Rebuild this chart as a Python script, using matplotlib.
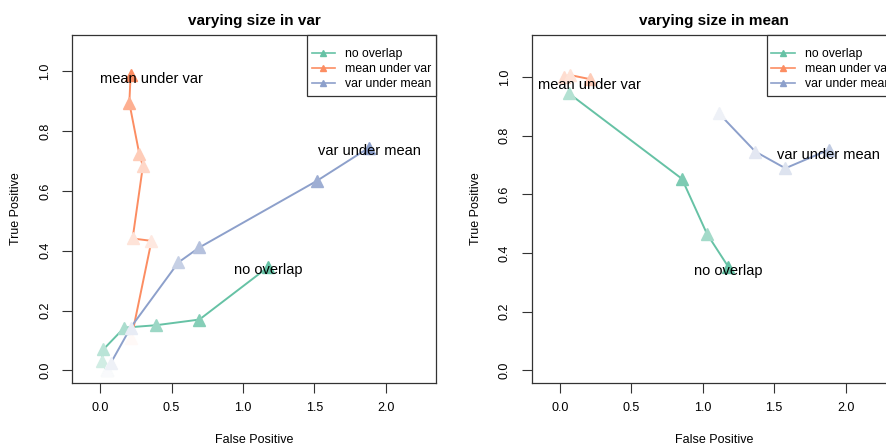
import matplotlib.pyplot as plt
from matplotlib.colors import to_rgb
from matplotlib.lines import Line2D
from matplotlib.patches import Rectangle

plt.rcParams['font.family'] = ['Liberation Sans', 'DejaVu Sans']

# series colours (Set2)
series_names = ["no overlap", "mean under var", "var under mean"]
series_cols = ["#66C2A5", "#FC8D62", "#8DA0CB"]

# --- left panel: varying size in var ---
var_no_x = [0.047, 0.012, 0.023, 0.17, 0.39, 0.695, 1.177]
var_no_y = [0.0, 0.031, 0.07, 0.143, 0.151, 0.17, 0.346]
var_mean_x = [0.22, 0.36, 0.228, 0.30, 0.275, 0.205, 0.214]
var_mean_y = [0.11, 0.433, 0.441, 0.683, 0.723, 0.894, 0.987]
var_var_x = [0.05, 0.077, 0.214, 0.548, 0.695, 1.515, 1.883]
var_var_y = [0.003, 0.026, 0.143, 0.361, 0.411, 0.633, 0.745]

# --- right panel: varying size in mean ---
mean_no_x = [0.063, 0.855, 1.03, 1.18]
mean_no_y = [0.945, 0.653, 0.465, 0.352]
mean_mean_x = [0.028, 0.075, 0.215]
mean_mean_y = [1.002, 1.007, 0.993]
mean_var_x = [1.112, 1.368, 1.578, 1.881]
mean_var_y = [0.877, 0.746, 0.689, 0.752]

# how strong each point's colour is (0 = white, 1 = full colour)
var_shades = [[0.1, 0.3, 0.45, 0.55, 0.65, 0.8, 1.0],
              [0.05, 0.2, 0.25, 0.35, 0.45, 0.7, 1.0],
              [0.05, 0.15, 0.2, 0.5, 0.65, 0.85, 1.0]]
mean_shades = [[0.5, 0.85, 0.6, 1.0],
               [0.3, 0.25, 0.45],
               [0.15, 0.25, 0.3, 0.55]]

# label positions (text drawn at these data points)
var_lab = [(1.177, 0.337), (0.36, 0.973), (1.883, 0.733)]
mean_lab = [(1.18, 0.337), (0.21, 0.974), (1.88, 0.733)]


def shade(c, s):
    r, g, b = to_rgb(c)
    return (1 - s + s * r, 1 - s + s * g, 1 - s + s * b)


def panel(ax, data, shades, labels, title, ylim):
    for (xs, ys), sh, col in zip(data, shades, series_cols):
        ax.plot(xs, ys, color=col, lw=1.4, zorder=2)
        for x, y, s in zip(xs, ys, sh):
            ax.plot(x, y, marker='^', ms=8.5, color=shade(col, s),
                    mec=shade(col, s), ls='none', zorder=3)
    for name, (lx, ly) in zip(series_names, labels):
        ax.text(lx, ly, name, ha='center', va='center', fontsize=10.5, zorder=4)
    ax.set_xlim(-0.196, 2.35)
    ax.set_ylim(*ylim)
    ax.set_xticks([0.0, 0.5, 1.0, 1.5, 2.0])
    ax.set_xticklabels(["0.0", "0.5", "1.0", "1.5", "2.0"])
    ax.set_yticks([0.0, 0.2, 0.4, 0.6, 0.8, 1.0])
    ax.set_yticklabels(["0.0", "0.2", "0.4", "0.6", "0.8", "1.0"],
                       rotation=90, va='center')
    ax.tick_params(direction='out', length=7, width=0.8, labelsize=9,
                   color='#333333', pad=8)
    ax.tick_params(axis='x', pad=7)
    for sp in ax.spines.values():
        sp.set_color('#333333')
        sp.set_linewidth(0.9)
    ax.set_xlabel("False Positive", fontsize=9, labelpad=14)
    ax.set_ylabel("True Positive", fontsize=9, labelpad=12)
    ax.set_title(title, fontsize=11, fontweight='bold', pad=7)

    # legend box drawn by hand, R style
    ax.add_patch(Rectangle((0.6456, 0.8247), 0.3544, 0.1753, transform=ax.transAxes,
                           facecolor='white', edgecolor='#333333', lw=0.9,
                           clip_on=False, zorder=5))
    handles = [Line2D([], [], color=c, marker='^', ms=5, lw=1.2) for c in series_cols]
    leg = ax.legend(handles, series_names, loc='upper right', fontsize=8.8,
                    frameon=False, borderaxespad=0, bbox_to_anchor=(1.0, 0.977),
                    handlelength=1.9, handletextpad=0.82, labelspacing=0.25,
                    borderpad=0.4)
    leg.set_zorder(6)


fig = plt.figure(figsize=(8.87, 4.45), dpi=100)
W, H = 887, 445
ax1 = fig.add_axes([72 / W, (H - 383) / H, 364 / W, 348 / H])
ax2 = fig.add_axes([531.7 / W, (H - 383) / H, 364 / W, 348 / H])

panel(ax1, [(var_no_x, var_no_y), (var_mean_x, var_mean_y), (var_var_x, var_var_y)],
      var_shades, var_lab, "varying size in var", (-0.042, 1.121))
panel(ax2, [(mean_no_x, mean_no_y), (mean_mean_x, mean_mean_y), (mean_var_x, mean_var_y)],
      mean_shades, mean_lab, "varying size in mean", (-0.044, 1.144))

fig.savefig("out.png", dpi=100)
